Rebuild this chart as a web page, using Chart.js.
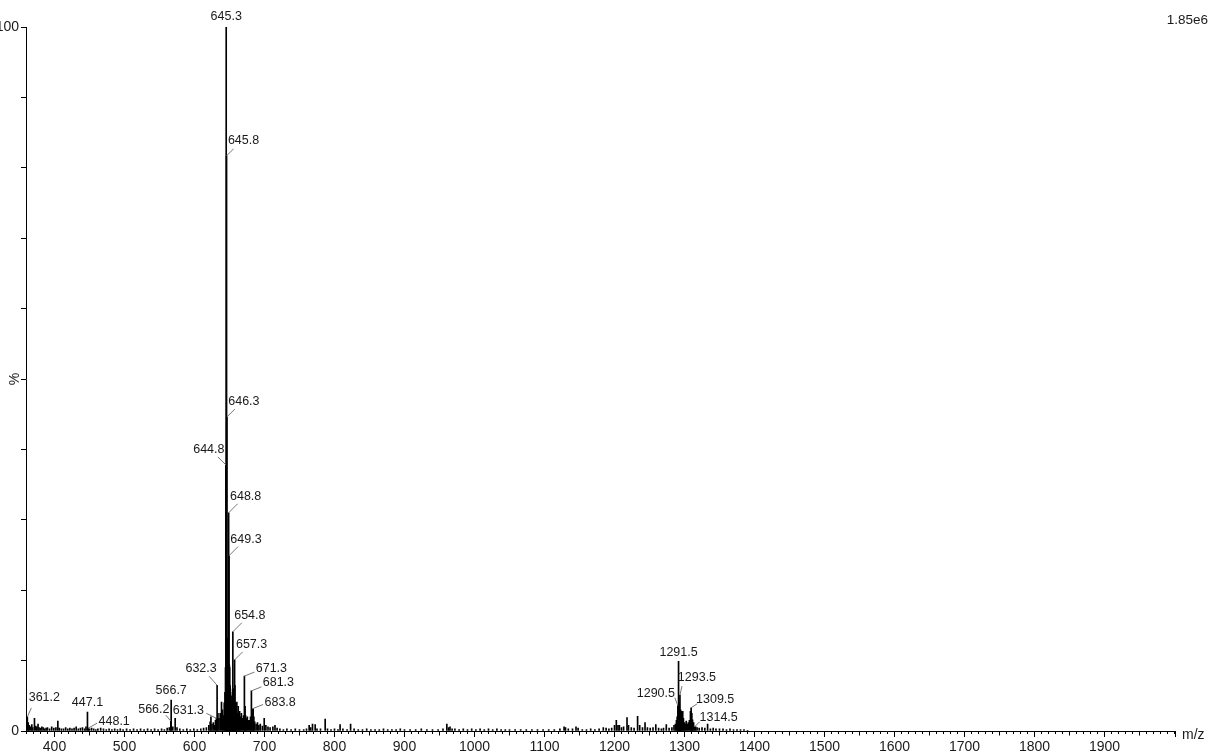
<!DOCTYPE html>
<html>
<head>
<meta charset="utf-8">
<script src="https://cdn.jsdelivr.net/npm/chart.js@4.4.0/dist/chart.umd.min.js"></script>
<style>
  html, body { margin: 0; padding: 0; background: #fff; }
  #wrap { width: 1210px; height: 756px; position: relative; }
</style>
</head>
<body>
<div id="wrap"><canvas id="chart"></canvas></div>
<script>
// labelled peaks (m/z, % of base peak)
var peakMz  = [361.2, 447.1, 448.1, 566.2, 566.7, 631.3, 632.3, 644.8, 645.3, 645.8, 646.3, 648.8, 649.3,
               654.8, 657.3, 671.3, 681.3, 683.8, 1290.5, 1291.5, 1293.5, 1309.5, 1314.5];
var peakInt = [2.0, 2.7, 0.4, 1.4, 4.4, 1.8, 6.5, 37.8, 100, 81.7, 44.6, 31.0, 24.9,
               14.1, 10.1, 7.8, 5.7, 3.2, 3.6, 9.9, 5.1, 3.3, 0.6];

// unlabelled peaks, low mass noise 360-620
var lowMz  = [362.5, 364, 365.5, 367.6, 369, 371.4, 373, 374.8, 376.5, 378, 380, 382, 384, 386, 388, 390, 393, 396, 399,
              402, 404.8, 407, 410, 413, 416, 419, 422, 425, 428, 431, 434, 437, 440, 443, 445, 450, 453, 456, 459, 462,
              466, 470, 474, 478, 482, 486, 490, 494, 498, 503, 508, 513, 518, 523, 528, 533, 538, 543, 548, 553, 557,
              561, 564, 569, 572.4, 575, 579, 584, 589, 594, 599, 604, 609, 613, 617];
var lowInt = [1.2, 0.8, 0.6, 0.9, 0.5, 1.8, 0.7, 0.6, 1.0, 0.5, 0.4, 0.6, 0.5, 0.3, 0.4, 0.5, 0.3, 0.6, 0.4,
              0.5, 1.4, 0.4, 0.3, 0.3, 0.5, 0.3, 0.4, 0.3, 0.4, 0.6, 0.3, 0.4, 0.5, 0.3, 0.6, 0.3, 0.4, 0.3, 0.2, 0.3,
              0.4, 0.3, 0.2, 0.3, 0.2, 0.3, 0.2, 0.3, 0.2, 0.3, 0.2, 0.3, 0.2, 0.3, 0.2, 0.3, 0.2, 0.3, 0.2, 0.3, 0.2,
              0.4, 0.5, 0.6, 1.8, 0.5, 0.3, 0.2, 0.3, 0.2, 0.3, 0.2, 0.3, 0.4, 0.5];

// cluster around the base peak
var clusterMz  = [620.5, 622.4, 623.5, 625, 627, 628.5, 630, 633.5, 635, 636.7, 638.6, 640, 641.5, 642.5, 643.5, 644.3,
                  646.8, 647.3, 647.8, 648.3, 649.8, 650.3, 650.8, 651.3, 651.8, 652.3, 653.3, 653.8, 654.3, 655.3, 655.8,
                  656.3, 656.8, 657.8, 658.3, 659.3, 660.5, 661.5, 662.5, 663.5, 664.5, 665.5, 667, 668.5, 670, 672.3,
                  673, 674, 675.5, 677, 678.5, 680, 682.3, 684.8, 686, 688, 690, 692, 694, 697, 699.6, 702, 705, 708,
                  712, 715, 718];
var clusterInt = [0.8, 1.3, 2.0, 1.0, 1.2, 0.8, 1.5, 2.5, 1.8, 2.5, 4.1, 3.0, 2.2, 4.0, 5.5, 9.0,
                  13.2, 13.0, 12.6, 12.8, 9.4, 9.0, 6.5, 6.0, 4.5, 5.0, 3.5, 4.0, 5.5, 6.0, 4.2,
                  3.5, 5.0, 6.5, 4.0, 3.2, 4.1, 2.5, 3.5, 2.8, 2.8, 2.0, 2.5, 1.8, 2.2, 3.5,
                  2.2, 1.8, 2.0, 1.5, 1.5, 2.0, 3.0, 2.0, 1.3, 1.0, 1.2, 0.8, 1.0, 0.7, 1.8, 0.8, 0.6, 0.5,
                  0.6, 0.8, 0.4];

// middle range 720-1200
var midMz  = [722, 727, 732, 738, 744, 750, 756, 760, 763.8, 766, 768.6, 772.4, 775, 780, 786.7, 790, 795, 800, 805,
              808, 812, 818, 823, 828, 834, 840, 846, 852, 858, 864, 870, 876, 882, 888, 894, 900, 908, 916, 924, 932,
              940, 948, 955, 960.5, 963, 965, 968, 972, 978, 984, 990, 996, 1002, 1008, 1014, 1020, 1026, 1032, 1038,
              1044, 1050, 1058, 1066, 1074, 1082, 1090, 1098, 1106, 1114, 1122, 1128, 1130, 1134, 1140, 1145, 1148,
              1154, 1160, 1166, 1172, 1178, 1184, 1188, 1192, 1196];
var midInt = [0.3, 0.2, 0.3, 0.2, 0.3, 0.2, 0.2, 0.3, 0.8, 0.5, 1.0, 0.9, 0.3, 0.3, 1.7, 0.3, 0.2, 0.3, 0.2,
              0.9, 0.3, 0.2, 1.0, 0.3, 0.2, 0.2, 0.3, 0.2, 0.2, 0.2, 0.3, 0.2, 0.2, 0.2, 0.3, 0.2, 0.2, 0.2, 0.3, 0.2,
              0.2, 0.2, 0.3, 1.0, 0.5, 0.6, 0.3, 0.3, 0.2, 0.3, 0.2, 0.3, 0.2, 0.3, 0.2, 0.3, 0.2, 0.3, 0.2,
              0.2, 0.2, 0.2, 0.2, 0.2, 0.2, 0.2, 0.2, 0.2, 0.2, 0.3, 0.6, 0.5, 0.3, 0.3, 0.6, 0.4,
              0.2, 0.2, 0.3, 0.2, 0.3, 0.5, 0.4, 0.3, 0.4];

// dimer region 1200-1400
var dimerMz  = [1200, 1202.6, 1205, 1207, 1210, 1213, 1217.9, 1220, 1224, 1228, 1233, 1236, 1240, 1243.6, 1247, 1251,
                1255, 1259, 1263, 1267, 1270, 1274, 1278, 1282, 1285, 1287, 1288.5, 1289.5, 1292, 1292.5, 1294,
                1294.5, 1295.5, 1296.5, 1297.5, 1298.5, 1300, 1301, 1302.5, 1304, 1305.5, 1307, 1308.5, 1310.5,
                1311.5, 1313, 1316, 1318, 1321, 1325, 1329, 1333, 1337, 1341, 1345, 1350, 1355, 1360, 1365, 1370,
                1375, 1380, 1385, 1390];
var dimerInt = [0.8, 1.5, 0.8, 0.8, 0.5, 0.6, 1.9, 0.8, 0.5, 0.4, 2.1, 0.8, 0.5, 1.2, 0.5, 0.4,
                0.5, 0.9, 0.4, 0.3, 0.4, 0.9, 0.4, 0.5, 0.8, 1.0, 1.5, 2.0, 3.0, 4.0, 2.8,
                3.0, 2.8, 2.0, 2.8, 1.8, 1.2, 1.0, 1.4, 1.0, 1.2, 1.5, 2.8, 2.5,
                1.6, 1.2, 0.6, 0.5, 0.4, 0.5, 0.4, 1.0, 0.3, 0.4, 0.3, 0.3, 0.3, 0.2, 0.3, 0.2,
                0.2, 0.2, 0.2, 0.1];

var peakText = peakMz.map(function (v) { return v.toFixed(1); });

// label placement, px relative to the peak top: [textDx, textDy, leaderDx, leaderDy]
var labelPos = [
  [17, -19, 4, -9],    // 361.2
  [0, -9, null, null], // 447.1
  [26, -7, 9, -5],     // 448.1
  [-17, -12, -5, -6],  // 566.2
  [0, -9, null, null], // 566.7
  [-28, -8, -10, -5],  // 631.3
  [-16, -17, -8, -9],  // 632.3
  [-17, -15, -8, -8],  // 644.8
  [0, -10, null, null],// 645.3
  [17, -15, 7, -7],    // 645.8
  [17, -15, 8, -8],    // 646.3
  [17, -16, 9, -9],    // 648.8
  [17, -16, 9, -9],    // 649.3
  [17, -16, 9, -9],    // 654.8
  [17, -15, 8, -8],    // 657.3
  [27, -8, 10, -4],    // 671.3
  [27, -8, 10, -4],    // 681.3
  [27, -6, 10, -4],    // 683.8
  [-22, -12, -3, -8],  // 1290.5
  [0, -9, null, null], // 1291.5
  [17, -18, 2, -9],    // 1293.5
  [24, -8, 6, -4],     // 1309.5
  [24, -9, 5, -5]      // 1314.5
];

var FONT = '"Liberation Sans", Arial, sans-serif';

var points = [];
function addPeaks(mz, it) {
  for (var i = 0; i < mz.length; i++) points.push({ x: mz[i], y: it[i] });
}
addPeaks(lowMz, lowInt);
addPeaks(clusterMz, clusterInt);
addPeaks(midMz, midInt);
addPeaks(dimerMz, dimerInt);
addPeaks(peakMz, peakInt);
points.sort(function (a, b) { return a.x - b.x; });

var decor = {
  id: 'decor',
  afterDraw: function (chart) {
    var ctx = chart.ctx, xs = chart.scales.x, ys = chart.scales.y;
    var base = chart.chartArea.bottom;
    ctx.save();
    // longer ticks at 50 and 100
    ctx.strokeStyle = '#000';
    ctx.lineWidth = 1;
    for (var v = 400; v <= 2000; v += 50) {
      var tx = Math.round(xs.getPixelForValue(v)) + 0.5;
      ctx.beginPath();
      ctx.moveTo(tx, base);
      ctx.lineTo(tx, base + (v % 100 === 0 ? 6 : 4.5));
      ctx.stroke();
    }
    // peak labels with leader lines
    ctx.font = '12.5px ' + FONT;
    ctx.textAlign = 'center';
    ctx.textBaseline = 'middle';
    for (var i = 0; i < peakMz.length; i++) {
      var px = xs.getPixelForValue(peakMz[i]);
      var py = ys.getPixelForValue(peakInt[i]);
      var p = labelPos[i];
      if (p[2] !== null) {
        ctx.strokeStyle = '#777';
        ctx.beginPath();
        ctx.moveTo(px, py);
        ctx.lineTo(px + p[2], py + p[3]);
        ctx.stroke();
      }
      ctx.fillStyle = '#1a1a1a';
      ctx.fillText(peakText[i], px + p[0], py + p[1]);
    }
    ctx.font = '14px ' + FONT;
    ctx.textAlign = 'left';
    ctx.fillText('m/z', 1182, 735);
    ctx.font = '13.5px ' + FONT;
    ctx.textAlign = 'right';
    ctx.fillText('1.85e6', 1208, 20);
    ctx.restore();
  }
};

var ctx = document.getElementById('chart').getContext('2d');
var chart = new Chart(ctx, {
  type: 'bar',
  data: {
    datasets: [{
      data: points,
      backgroundColor: '#000',
      barThickness: 1,
      borderWidth: 0
    }]
  },
  options: {
    responsive: true,
    maintainAspectRatio: false,
    animation: false,
    layout: { padding: { top: 27, right: 35.5, left: 0, bottom: 0 } },
    plugins: { legend: { display: false }, tooltip: { enabled: false } },
    scales: {
      x: {
        type: 'linear',
        min: 359.3,
        max: 2000,
        offset: false,
        grid: { display: true, offset: false, drawOnChartArea: false, drawTicks: true, tickLength: 3, color: '#000', tickColor: '#000' },
        border: { display: true, color: '#000', width: 1 },
        ticks: {
          stepSize: 10,
          autoSkip: false,
          includeBounds: false,
          maxTicksLimit: 1000,
          maxRotation: 0,
          padding: 5,
          color: '#1a1a1a',
          font: { size: 14, family: FONT },
          callback: function (v) { return (v % 100 === 0 && v < 2000) ? String(v) : ''; }
        },
        afterFit: function (s) { s.height = 25; }
      },
      y: {
        min: 0,
        max: 100,
        grid: { display: true, drawOnChartArea: false, drawTicks: true, tickLength: 5, color: '#000', tickColor: '#000' },
        border: { display: true, color: '#000', width: 1 },
        ticks: {
          stepSize: 10,
          autoSkip: false,
          padding: 2,
          color: '#1a1a1a',
          font: { size: 14, family: FONT },
          callback: function (v) { return (v === 0 || v === 100) ? String(v) : ''; }
        },
        title: { display: true, text: '%', color: '#1a1a1a', font: { size: 14, family: FONT }, padding: { top: 7, bottom: 0 } },
        afterFit: function (s) { s.width = 26; }
      }
    }
  },
  plugins: [decor]
});
</script>
</body>
</html>
